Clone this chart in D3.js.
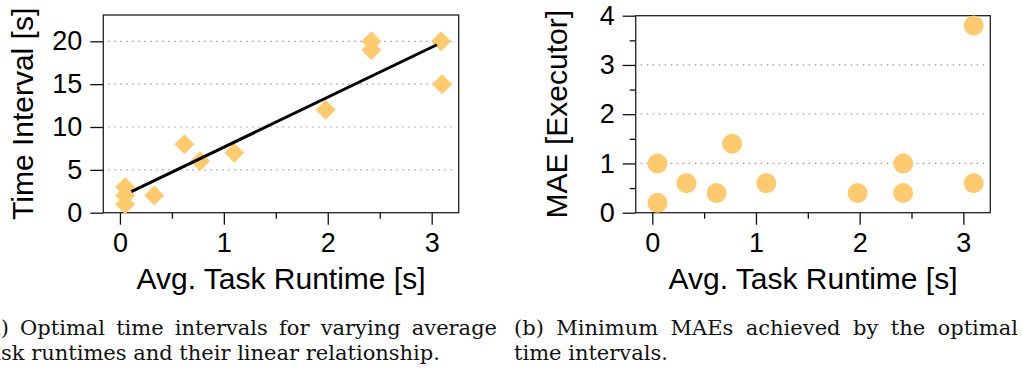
<!DOCTYPE html>
<html>
<head>
<meta charset="utf-8">
<script src="https://cdn.jsdelivr.net/npm/d3@7"></script>
<style>
  html, body { margin: 0; padding: 0; background: #fff; }
  svg { display: block; }
  .tick text { font-family: "Liberation Sans", Arial, sans-serif; }
</style>
</head>
<body>
<svg id="fig" width="1022" height="376"></svg>
<script>
// Panel (a): optimal time interval per average task runtime
const runtimeA  = [0.05, 0.05, 0.05, 0.33, 0.62, 0.77, 1.10, 1.98, 2.42, 2.42, 3.09, 3.10];
const intervalA = [3,    2,    1,    2,    8,    6,    7,    12,   20,   19,   20,   15];
// fitted linear relationship (end points of the drawn segment)
const fitX = [0.11, 3.05];
const fitY = [2.45, 19.6];

// Panel (b): minimum MAE reached with the optimal interval
const runtimeB = [0.05, 0.05, 0.33, 0.62, 0.77, 1.10, 1.98, 2.42, 2.42, 3.10, 3.10];
const maeB     = [1.0,  0.2,  0.6,  0.4,  1.4,  0.6,  0.4,  1.0,  0.4,  0.6,  3.8];

const xTicks = [0, 1, 2, 3];
const xMinor = [0.5, 1.5, 2.5];
const yTicksA = [0, 5, 10, 15, 20];
const gridA = [5, 10, 15, 20];
const yTicksB = [0, 1, 2, 3, 4];
const yMinorB = [0.5, 1.5, 2.5, 3.5];
const gridB = [1, 2, 3];

const xTitle = "Avg. Task Runtime [s]";
const yTitleA = "Time Interval [s]";
const yTitleB = "MAE [Executor]";
const capA = ["(a) Optimal time intervals for varying average", "task runtimes and their linear relationship."];
const capB = ["(b) Minimum MAEs achieved by the optimal", "time intervals."];

const FILL = "#fdcb6e";
const SANS = "'Liberation Sans', Arial, Helvetica, sans-serif";
const SERIF = "'DejaVu Serif', serif";

const svg = d3.select("#fig");

function panel(opt) {
  const g = svg.append("g");
  const x = d3.scaleLinear().domain([-0.16, 3.26]).range([opt.left, opt.right]);
  const y = d3.scaleLinear().domain(opt.yDomain).range([opt.bottom, opt.top]);

  // dotted grid
  g.append("g").selectAll("line").data(opt.grid).join("line")
    .attr("x1", opt.left + 5).attr("x2", opt.right - 5)
    .attr("y1", d => y(d)).attr("y2", d => y(d))
    .attr("stroke", "#9a9a9a").attr("stroke-width", 1.2)
    .attr("stroke-dasharray", "1.5,4.5");

  // y axis
  const ya = g.append("g").attr("transform", `translate(${opt.left},0)`)
    .call(d3.axisLeft(y).tickValues(opt.yTicks).tickSize(13).tickPadding(8).tickFormat(d3.format("d")));
  ya.select(".domain").remove();
  ya.selectAll(".tick line").attr("stroke", "#111").attr("stroke-width", 1.3);
  ya.selectAll(".tick text").attr("font-size", 27).attr("fill", "#000");
  if (opt.yMinor) {
    const ym = g.append("g").attr("transform", `translate(${opt.left},0)`)
      .call(d3.axisLeft(y).tickValues(opt.yMinor).tickSize(6).tickFormat(""));
    ym.select(".domain").remove();
    ym.selectAll(".tick line").attr("stroke", "#111").attr("stroke-width", 1.3);
  }

  // x axis
  const xa = g.append("g").attr("transform", `translate(0,${opt.bottom})`)
    .call(d3.axisBottom(x).tickValues(xTicks).tickSize(12).tickPadding(8).tickFormat(d3.format("d")));
  xa.select(".domain").remove();
  xa.selectAll(".tick line").attr("stroke", "#111").attr("stroke-width", 1.3);
  xa.selectAll(".tick text").attr("font-size", 27).attr("fill", "#000");
  const xm = g.append("g").attr("transform", `translate(0,${opt.bottom})`)
    .call(d3.axisBottom(x).tickValues(xMinor).tickSize(6).tickFormat(""));
  xm.select(".domain").remove();
  xm.selectAll(".tick line").attr("stroke", "#111").attr("stroke-width", 1.3);

  // frame
  g.append("rect")
    .attr("x", opt.left).attr("y", opt.top)
    .attr("width", opt.right - opt.left).attr("height", opt.bottom - opt.top)
    .attr("fill", "none").attr("stroke", "#222").attr("stroke-width", 1.3);

  // axis titles
  g.append("text")
    .attr("x", (opt.left + opt.right) / 2).attr("y", 289)
    .attr("text-anchor", "middle").attr("font-family", SANS).attr("font-size", 30)
    .text(xTitle);
  g.append("text")
    .attr("transform", `translate(${opt.yTitleX},${(opt.top + opt.bottom) / 2}) rotate(-90)`)
    .attr("text-anchor", "middle").attr("font-family", SANS).attr("font-size", 30)
    .text(opt.yTitle);

  return { g, x, y };
}

// ---- panel (a)
const A = panel({ left: 103.3, right: 458.7, top: 15, bottom: 212.7, yDomain: [0, 23.07],
  yTicks: yTicksA, grid: gridA, yTitle: yTitleA, yTitleX: 33 });

const diamond = d3.symbol().type(d3.symbolSquare).size(200);
A.g.append("g").selectAll("path").data(runtimeA.map((r, i) => [r, intervalA[i]])).join("path")
  .attr("d", diamond)
  .attr("transform", d => `translate(${A.x(d[0])},${A.y(d[1])}) rotate(45)`)
  .attr("fill", FILL);

A.g.append("path")
  .datum(fitX.map((v, i) => [v, fitY[i]]))
  .attr("d", d3.line().x(d => A.x(d[0])).y(d => A.y(d[1])))
  .attr("stroke", "#000").attr("stroke-width", 3).attr("fill", "none");

// ---- panel (b)
const B = panel({ left: 635.7, right: 990.3, top: 15.7, bottom: 212.7, yDomain: [0, 4],
  yTicks: yTicksB, yMinor: yMinorB, grid: gridB, yTitle: yTitleB, yTitleX: 567 });

B.g.append("g").selectAll("circle").data(runtimeB.map((r, i) => [r, maeB[i]])).join("circle")
  .attr("cx", d => B.x(d[0])).attr("cy", d => B.y(d[1]))
  .attr("r", 10).attr("fill", FILL);

// ---- captions: first line justified by widening the word gaps
function caption(lines, x, width) {
  const t = svg.append("g").attr("font-family", SERIF).attr("font-size", 21).attr("fill", "#111");
  const first = t.append("text").attr("x", x).attr("y", 335).text(lines[0]);
  const natural = first.node().getComputedTextLength();
  const gaps = lines[0].split(" ").length - 1;
  if (gaps > 0 && natural < width) first.attr("word-spacing", (width - natural) / gaps);
  t.append("text").attr("x", x).attr("y", 360).text(lines[1]);
}
caption(capA, -20, 517);
caption(capB, 514, 504);
</script>
</body>
</html>
